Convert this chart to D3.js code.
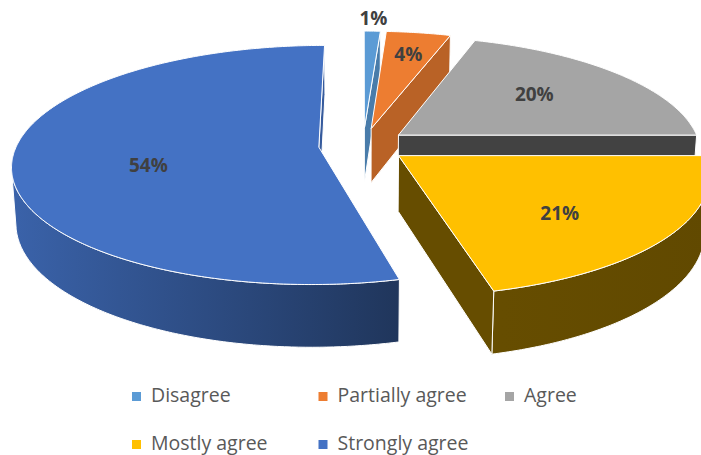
<!DOCTYPE html>
<meta charset="utf-8">
<style>
  body { margin: 0; background: #fff; }
  svg { display: block; }
  text { font-family: "Open Sans", sans-serif; }
</style>
<body></body>
<script src="https://cdn.jsdelivr.net/npm/d3@7"></script>
<script>
  const width = 701
  const height = 455

  const categories = ["Disagree", "Partially agree", "Agree", "Mostly agree", "Strongly agree"]
  const values = [1, 4, 20, 21, 54]
  const colors = ["#5B9BD5", "#ED7D31", "#A5A5A5", "#FFC000", "#4472C4"]

  // how the tilted pie is seen
  const cx = 363, cy = 145, K = 302
  const sinT = 0.385, cosT = Math.sqrt(1 - sinT * sinT)
  const persp = 0.161
  const explode = 0.147
  const thick = 0.2
  // label spot along each slice's middle, as a share of the radius
  const labelRadius = [1.16, 0.76, 0.6, 0.62, 0.56]
  const labelDy = [0, 0, -3, 9, 10]

  function project(u, v, y) {
    const w = 1 + persp * (v * cosT - y * sinT)
    return [cx + K * u / w, cy - K * (v * sinT + y * cosT) / w]
  }

  function shade(c, f) {
    const r = d3.rgb(c)
    return d3.rgb(r.r * f, r.g * f, r.b * f).formatHex()
  }

  function area(pts) {
    let s = 0
    pts.forEach((p, i) => {
      const q = pts[(i + 1) % pts.length]
      s += p[0] * q[1] - q[0] * p[1]
    })
    return s
  }

  const line = d3.line().curve(d3.curveLinearClosed)

  const svg = d3.select("body")
    .append("svg")
    .attr("width", width)
    .attr("height", height)

  const defs = svg.append("defs")

  // wall shading runs left to right across the whole pie
  colors.forEach((c, i) => {
    const g = defs.append("linearGradient")
      .attr("id", "wall" + i)
      .attr("gradientUnits", "userSpaceOnUse")
      .attr("x1", 15).attr("x2", 710).attr("y1", 0).attr("y2", 0)
    ;[[0, 0.86], [0.55, 0.47], [0.7, 0.4], [1, 0.38]].forEach(s => {
      g.append("stop").attr("offset", s[0]).attr("stop-color", shade(c, s[1]))
    })
  })

  const arcs = d3.pie().sort(null).value(d => d)(values)

  const slices = arcs.map((d, i) => {
    const m = (d.startAngle + d.endAngle) / 2
    const ou = explode * Math.sin(m), ov = explode * Math.cos(m)
    return Object.assign({}, d, { i, m, ou, ov })
  })

  const group = svg.append("g")

  slices.slice().sort((a, b) => b.ov - a.ov).forEach(s => {
    const a0 = s.startAngle, a1 = s.endAngle
    const rim = (a, y) => project(s.ou + Math.sin(a), s.ov + Math.cos(a), y)
    const apex = y => project(s.ou, s.ov, y)
    const n = Math.max(2, Math.ceil((a1 - a0) / 0.01))
    const angles = d3.range(n + 1).map(k => a0 + (a1 - a0) * k / n)
    const g = group.append("g")

    // outer wall, only the runs facing us
    let run = []
    const runs = []
    for (let k = 0; k < n; k++) {
      const quad = [rim(angles[k], 0), rim(angles[k + 1], 0), rim(angles[k + 1], -thick), rim(angles[k], -thick)]
      if (area(quad) < 0) {
        if (!run.length) run.push(angles[k])
        run.push(angles[k + 1])
      } else if (run.length) {
        runs.push(run); run = []
      }
    }
    if (run.length) runs.push(run)
    runs.forEach(r => {
      const pts = r.map(a => rim(a, 0)).concat(r.slice().reverse().map(a => rim(a, -thick)))
      g.append("path")
        .attr("d", line(pts))
        .attr("fill", `url(#wall${s.i})`)
        .attr("stroke", "#fff")
        .attr("stroke-width", 1)
        .attr("stroke-linejoin", "round")
    })

    // cut faces
    const cuts = [
      { pts: [apex(0), rim(a0, 0), rim(a0, -thick), apex(-thick)], nu: Math.sin(a0 - Math.PI / 2) },
      { pts: [apex(0), apex(-thick), rim(a1, -thick), rim(a1, 0)], nu: Math.sin(a1 + Math.PI / 2) }
    ]
    cuts.forEach(c => {
      if (area(c.pts) >= 0) return
      g.append("path")
        .attr("d", line(c.pts))
        .attr("fill", shade(colors[s.i], 0.4 + 0.4 * Math.max(0, c.nu)))
        .attr("stroke", "#fff")
        .attr("stroke-width", 1)
        .attr("stroke-linejoin", "round")
    })

    // top face
    const top = [apex(0)].concat(angles.map(a => rim(a, 0)))
    g.append("path")
      .attr("d", line(top))
      .attr("fill", colors[s.i])
      .attr("stroke", "#fff")
      .attr("stroke-width", 1)
      .attr("stroke-linejoin", "round")
  })

  // percentage labels
  const total = d3.sum(values)
  svg.append("g").selectAll("text")
    .data(slices)
    .join("text")
    .attr("x", d => project(d.ou + labelRadius[d.i] * Math.sin(d.m), d.ov + labelRadius[d.i] * Math.cos(d.m), 0)[0])
    .attr("y", d => project(d.ou + labelRadius[d.i] * Math.sin(d.m), d.ov + labelRadius[d.i] * Math.cos(d.m), 0)[1] + labelDy[d.i])
    .attr("text-anchor", "middle")
    .attr("dominant-baseline", "central")
    .attr("font-size", 19)
    .attr("font-weight", "bold")
    .attr("fill", "#404040")
    .text(d => Math.round(d.value / total * 100) + "%")

  // legend
  const legend = svg.append("g")
    .attr("transform", "translate(132, 392)")

  const items = legend.selectAll("g")
    .data(categories)
    .join("g")
    .attr("transform", (d, i) => `translate(${(i % 3) * 186.5}, ${Math.floor(i / 3) * 48})`)

  items.append("rect")
    .attr("width", 9)
    .attr("height", 9)
    .attr("fill", (d, i) => colors[i])

  items.append("text")
    .attr("x", 19)
    .attr("y", 10)
    .attr("font-size", 19.5)
    .attr("fill", "#595959")
    .text(d => d)
</script>
